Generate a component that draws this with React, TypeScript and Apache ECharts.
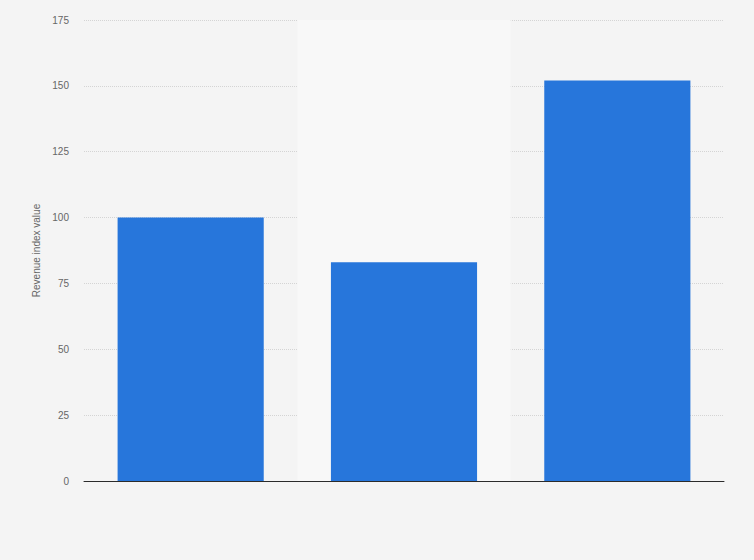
import React, { useEffect, useRef } from "react";
import * as echarts from "echarts";

const categories = ["A", "B", "C"];
const revenueIndex = [100, 83, 152];
const yTicks = { min: 0, max: 175, interval: 25 };

export default function App() {
  const ref = useRef<HTMLDivElement>(null);
  useEffect(() => {
    if (!ref.current) return;
    const chart = echarts.init(ref.current, undefined, { renderer: "svg" });
    chart.setOption({
      animation: false,
      backgroundColor: "#f4f4f4",
      grid: { left: 84, right: 30, top: 20, bottom: 79, containLabel: false },
      xAxis: {
        type: "category",
        data: categories,
        axisLine: { show: true, lineStyle: { color: "#2b2b2b", width: 1 } },
        axisTick: { show: false },
        axisLabel: { show: false },
        splitLine: { show: false },
        splitArea: { show: true, areaStyle: { color: ["rgba(0,0,0,0)", "#f8f8f8"] } },
      },
      yAxis: {
        type: "value",
        min: yTicks.min,
        max: yTicks.max,
        interval: yTicks.interval,
        name: "Revenue index value",
        nameLocation: "middle",
        nameGap: 40,
        nameTextStyle: { color: "#666", fontSize: 10, fontFamily: "Arial, Liberation Sans, sans-serif" },
        axisLine: { show: false },
        axisTick: { show: false },
        axisLabel: { color: "#666", fontSize: 10, margin: 15, fontFamily: "Arial, Liberation Sans, sans-serif" },
        splitLine: { show: true, lineStyle: { color: "#d4d4d4", type: "dotted", width: 1 } },
      },
      series: [
        {
          type: "bar",
          data: revenueIndex,
          barWidth: "68.5%",
          itemStyle: { color: "#2776db" },
        },
      ],
    });
    return () => chart.dispose();
  }, []);
  return (
    <div
      ref={ref}
      style={{ position: "fixed", left: 0, top: 0, width: 754, height: 560 }}
    />
  );
}
